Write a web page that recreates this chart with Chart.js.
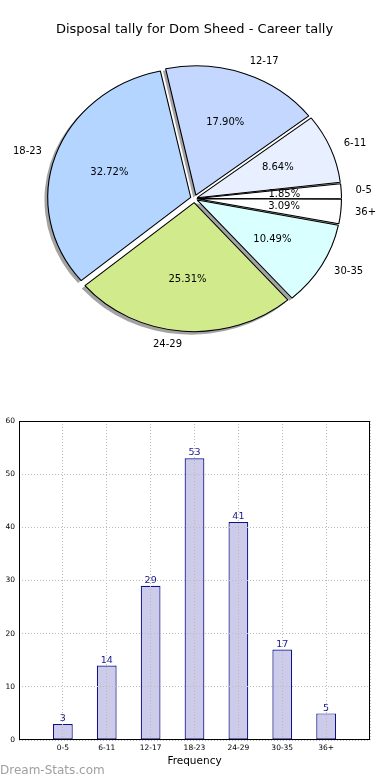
<!DOCTYPE html>
<html>
<head>
<meta charset="utf-8">
<script src="https://cdn.jsdelivr.net/npm/chart.js@4"></script>
<style>
  body { margin: 0; background: #fff; }
  #wrap { position: relative; width: 390px; height: 780px; }
  #pie { position: absolute; left: 0; top: 0; }
  #bar { position: absolute; left: 0; top: 400px; }
</style>
</head>
<body>
<div id="wrap">
  <canvas id="pie" width="390" height="400"></canvas>
  <canvas id="bar" width="390" height="380"></canvas>
</div>
<script>
const categories = ['0-5', '6-11', '12-17', '18-23', '24-29', '30-35', '36+'];
const counts = [3, 14, 29, 53, 41, 17, 5];
const sliceColors = ['#ffffff', '#e8f0ff', '#c4d8ff', '#b3d5ff', '#d0ea8c', '#d9ffff', '#ffffff'];
const yTicks = [0, 10, 20, 30, 40, 50, 60];

Chart.defaults.font.family = "'DejaVu Sans', sans-serif";

const total = counts.reduce((a, b) => a + b, 0);
// matplotlib goes counter-clockwise from 3 o'clock, chart.js clockwise -> reverse
const pieLabels = categories.slice().reverse();
const pieValues = counts.slice().reverse();
const pieColors = sliceColors.slice().reverse();

const SX = 1.105;   // original axes weren't square, pie is a bit wider than tall
const EXPLODE = 4;

// chart.js moves an arc by offset/4*(2-sin(c)), undo that so every wedge moves the same
function shift(el) {
  const c = el.endAngle - el.startAngle;
  return (el.options.offset || 0) / 4 * (2 - Math.sin(Math.min(Math.PI, c)));
}

const piePlugin = {
  id: 'pieLook',
  beforeDatasetsDraw(chart) {
    const ctx = chart.ctx;
    const arcs = chart.getDatasetMeta(0).data;
    const cx = arcs[0].x, cy = arcs[0].y;
    ctx.save();
    ctx.translate(cx, cy);
    ctx.scale(SX, 1);
    ctx.translate(-cx, -cy);
    // drop shadows under all wedges
    ctx.fillStyle = 'rgba(0,0,0,0.36)';
    arcs.forEach(el => {
      const mid = (el.startAngle + el.endAngle) / 2;
      const d = shift(el);
      const x = el.x + Math.cos(mid) * d - 2.5;
      const y = el.y + Math.sin(mid) * d + 2.5;
      ctx.beginPath();
      ctx.moveTo(x, y);
      ctx.arc(x, y, el.outerRadius + 0.5, el.startAngle, el.endAngle);
      ctx.closePath();
      ctx.fill();
    });
  },
  afterDatasetsDraw(chart) {
    const ctx = chart.ctx;
    ctx.restore();
    const arcs = chart.getDatasetMeta(0).data;
    ctx.save();
    ctx.font = "10px 'DejaVu Sans'";
    ctx.fillStyle = '#000';
    ctx.textBaseline = 'middle';
    arcs.forEach((el, i) => {
      const mid = (el.startAngle + el.endAngle) / 2;
      const d = shift(el), r = el.outerRadius;
      const cs = Math.cos(mid), sn = Math.sin(mid);
      ctx.textAlign = cs > 0 ? 'left' : 'right';
      ctx.fillText(pieLabels[i], el.x + SX * cs * (d + 1.1 * r), el.y + sn * (d + 1.1 * r));
      ctx.textAlign = 'center';
      const pct = (pieValues[i] / total * 100).toFixed(2) + '%';
      ctx.fillText(pct, el.x + SX * cs * (d + 0.6 * r), el.y + sn * (d + 0.6 * r));
    });
    ctx.restore();
  }
};

new Chart(document.getElementById('pie'), {
  type: 'pie',
  data: {
    labels: pieLabels,
    datasets: [{
      data: pieValues,
      backgroundColor: pieColors,
      borderColor: '#000',
      borderWidth: 1,
      offset: c => {
        const a = c.parsed / total * 2 * Math.PI;
        return EXPLODE * 4 / (2 - Math.sin(Math.min(Math.PI, a)));
      },
      hoverOffset: 0,
      clip: false
    }]
  },
  options: {
    responsive: false,
    animation: false,
    rotation: 90,
    radius: 129,
    layout: { padding: { bottom: 70, right: 1 } },
    plugins: {
      legend: { display: false },
      tooltip: { enabled: false },
      title: {
        display: true,
        text: 'Disposal tally for Dom Sheed - Career tally',
        color: '#000',
        font: { size: 13, weight: 'normal' },
        padding: { top: 21.7, bottom: 30 }
      }
    }
  },
  plugins: [piePlugin]
});

const barPlugin = {
  id: 'barLook',
  afterDatasetsDraw(chart) {
    const ctx = chart.ctx;
    ctx.save();
    ctx.font = "9.5px 'DejaVu Sans'";
    ctx.fillStyle = '#1a1a8c';
    ctx.textAlign = 'center';
    ctx.textBaseline = 'bottom';
    const data = chart.data.datasets[0].data;
    chart.getDatasetMeta(0).data.forEach((bar, i) => {
      if (data[i] == null) return;
      ctx.fillText(String(data[i]), bar.x, bar.y - 0.5);
    });
    ctx.restore();
  },
  afterDraw(chart) {
    const ctx = chart.ctx;
    const a = chart.chartArea;
    ctx.save();
    ctx.strokeStyle = '#000';
    ctx.lineWidth = 1;
    ctx.strokeRect(Math.round(a.left) + 0.5, Math.round(a.top) + 0.5,
      Math.round(a.right - a.left) - 1, Math.round(a.bottom - a.top) - 1);
    ctx.font = "12px 'DejaVu Sans'";
    ctx.fillStyle = '#a0a0a0';
    ctx.textAlign = 'left';
    ctx.textBaseline = 'alphabetic';
    ctx.fillText('Dream-Stats.com', 0, 374);
    ctx.restore();
  }
};

new Chart(document.getElementById('bar'), {
  type: 'bar',
  data: {
    labels: ['', ...categories, ''],
    datasets: [{
      data: [null, ...counts, null],
      backgroundColor: '#ccccea',
      borderColor: '#10108a',
      borderWidth: 1.2,
      borderSkipped: false,
      barPercentage: 0.45,
      categoryPercentage: 1
    }]
  },
  options: {
    responsive: false,
    animation: false,
    layout: { padding: { top: 21, right: 20, bottom: 12, left: 0 } },
    plugins: { legend: { display: false }, tooltip: { enabled: false } },
    scales: {
      x: {
        offset: false,
        grid: { offset: false, color: '#bbbbbb', z: 1, drawTicks: false },
        border: { display: false, dash: [1, 2] },
        ticks: { font: { size: 7.5 }, color: '#000', padding: 4, autoSkip: false, maxRotation: 0 },
        title: { display: true, text: 'Frequency', color: '#000', font: { size: 10.5 }, padding: { top: 0, bottom: 0 } },
        afterFit: s => { s.height = 28; }
      },
      y: {
        min: 0,
        max: 60,
        afterBuildTicks: s => { s.ticks = yTicks.map(v => ({ value: v })); },
        ticks: { font: { size: 7.5 }, color: '#000', padding: 4 },
        grid: { color: '#bbbbbb', z: 1, drawTicks: false },
        border: { display: false, dash: [1, 2] },
        afterFit: s => { s.width = 19; }
      }
    }
  },
  plugins: [barPlugin]
});
</script>
</body>
</html>
